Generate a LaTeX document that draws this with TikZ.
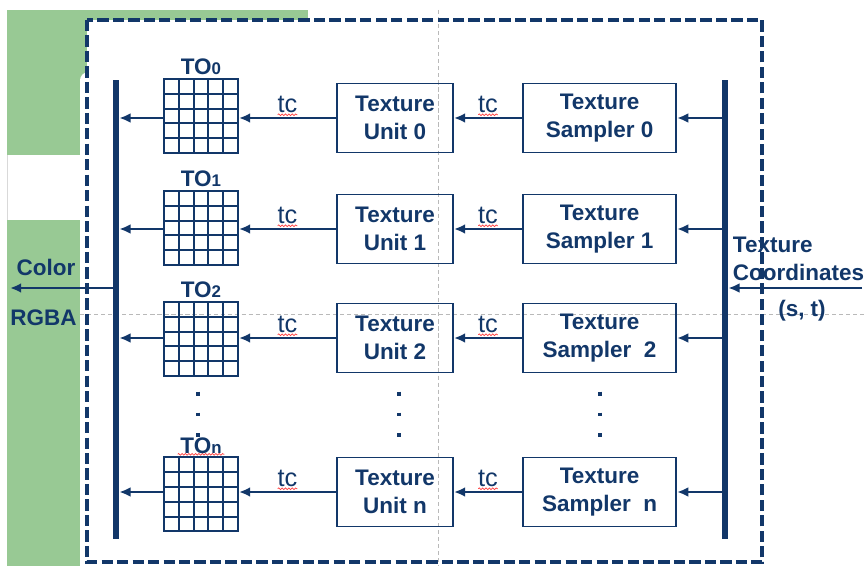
\documentclass[tikz,border=0pt]{standalone}
\usepackage{fontspec}
\setmainfont{Liberation Sans}
\usetikzlibrary{arrows.meta,decorations.pathmorphing}

\definecolor{navy}{RGB}{18,55,105}
\definecolor{slidegreen}{RGB}{152,201,148}
\definecolor{guide}{RGB}{185,185,185}

\newcommand{\tosub}[1]{{\fontsize{12}{12}\selectfont #1}}

\tikzset{
  unitbox/.style={draw=navy, line width=1.4pt, minimum width=2.9cm, minimum height=1.725cm,
    inner sep=0pt, align=center, text=navy, font=\fontsize{16}{20}\selectfont\bfseries},
  samplerbox/.style={unitbox, minimum width=3.825cm},
  tgrid/.style={draw=navy, line width=1.4pt, minimum size=1.85cm, inner sep=0pt,
    path picture={\foreach \k in {1,...,4}{
      \draw[-, navy, line width=1.4pt]
        ([xshift=\k*0.37cm]path picture bounding box.south west) --
        ([xshift=\k*0.37cm]path picture bounding box.north west);
      \draw[-, navy, line width=1.4pt]
        ([yshift=\k*0.37cm]path picture bounding box.south west) --
        ([yshift=\k*0.37cm]path picture bounding box.south east);}}},
  bus/.style={fill=navy, minimum width=4.3pt, minimum height=11.475cm, inner sep=0pt},
  arr/.style={draw=navy, line width=2pt, -{Latex[length=8pt,width=7pt]}},
  lbl/.style={text=navy, font=\fontsize{16}{20}\selectfont\bfseries},
  tolbl/.style={text=navy, font=\fontsize{16}{16}\selectfont\bfseries, inner sep=2pt},
  spell/.style={path picture={\draw[-, red!75, line width=0.5pt, decorate,
      decoration={snake, amplitude=0.6pt, segment length=2.4pt}]
      ([yshift=1.3pt]path picture bounding box.south west) --
      ([yshift=1.3pt]path picture bounding box.south east);}},
  tc/.style={spell, text=navy, font=\fontsize{18}{18}\selectfont, inner xsep=0pt, inner ysep=3pt},
  dotcol/.style={draw=navy, line width=2.8pt, dash pattern=on 2.8pt off 12.1pt}
}

\begin{document}
\begin{tikzpicture}
\useasboundingbox (0,0) rectangle (21.675,-14.15);

% slide background around the frame
\fill[slidegreen] (0.175,-0.25) rectangle (7.7,-3.875);
\fill[slidegreen] (0.175,-5.5) rectangle (2.0,-14.15);
\draw[gray!30, line width=0.5pt] (0.175,-3.875) -- (0.175,-5.5);
\fill[white, rounded corners=6pt] (2.0,-14.4) rectangle (7.8,-1.8);
\fill[white] (2.175,-0.5) rectangle (19.05,-14.05);

% guides
\draw[guide, line width=0.5pt, dash pattern=on 3pt off 2pt] (10.95,-0.25) -- (10.95,-14.15);
\draw[guide, line width=0.5pt, dash pattern=on 3pt off 2pt] (2.0,-7.85) -- (21.675,-7.85);

% frame
\draw[navy, line width=2.2pt, dash pattern=on 8pt off 3pt] (2.175,-0.5) rectangle (19.05,-14.05);

% buses
\node[bus] (lbus) at (2.9,-7.7375) {};
\node[bus] (rbus) at (18.125,-7.7375) {};

% texture objects
\node[tgrid] (g0) at (5.025,-2.9) {};
\node[tgrid] (g1) at (5.025,-5.7) {};
\node[tgrid] (g2) at (5.025,-8.475) {};
\node[tgrid] (gn) at (5.025,-12.36) {};
\node[tolbl, anchor=south] (to0) at (g0.north) {TO\tosub{0}};
\node[tolbl, anchor=south] (to1) at (g1.north) {TO\tosub{1}};
\node[tolbl, anchor=south] (to2) at (g2.north) {TO\tosub{2}};
\node[tolbl, spell, anchor=south] (ton) at (gn.north) {TO\tosub{n}};

% units and samplers
\node[unitbox] (u0) at (9.875,-2.95) {Texture\\Unit 0};
\node[unitbox] (u1) at (9.875,-5.725) {Texture\\Unit 1};
\node[unitbox] (u2) at (9.875,-8.45) {Texture\\Unit 2};
\node[unitbox] (un) at (9.875,-12.3) {Texture\\Unit n};
\node[samplerbox] (s0) at (14.99,-2.95) {Texture\\Sampler 0};
\node[samplerbox] (s1) at (14.99,-5.725) {Texture\\Sampler 1};
\node[samplerbox] (s2) at (14.99,-8.45) {Texture\\Sampler\ \ 2};
\node[samplerbox] (sn) at (14.99,-12.3) {Texture\\Sampler\ \ n};

% more rows follow
\draw[dotcol] (4.95,-9.79) -- (4.95,-10.95);
\draw[dotcol] (9.975,-9.79) -- (9.975,-10.95);
\draw[dotcol] (15.0,-9.79) -- (15.0,-10.95);

% row 0
\draw[arr](s0.east -| rbus.west)--(s0.east);
\draw[arr](s0)--(u0) node[tc,midway,above](tc0b){tc};
\draw[arr](u0)--(u0 -| g0.east) node[tc,midway,above](tc0a){tc};
\draw[arr](u0 -| g0.west)--(u0 -| lbus.east);
% row 1
\draw[arr](s1.east -| rbus.west)--(s1.east);
\draw[arr](s1)--(u1) node[tc,midway,above](tc1b){tc};
\draw[arr](u1)--(u1 -| g1.east) node[tc,midway,above](tc1a){tc};
\draw[arr](u1 -| g1.west)--(u1 -| lbus.east);
% row 2
\draw[arr](s2.east -| rbus.west)--(s2.east);
\draw[arr](s2)--(u2) node[tc,midway,above](tc2b){tc};
\draw[arr](u2)--(u2 -| g2.east) node[tc,midway,above](tc2a){tc};
\draw[arr](u2 -| g2.west)--(u2 -| lbus.east);
% row n
\draw[arr](sn.east -| rbus.west)--(sn.east);
\draw[arr](sn)--(un) node[tc,midway,above](tcnb){tc};
\draw[arr](un)--(un -| gn.east) node[tc,midway,above](tcna){tc};
\draw[arr](un -| gn.west)--(un -| lbus.east);

% output colour
\coordinate (rgba) at (0.25,-7.2);
\draw[arr](lbus.west |- rgba)--(rgba);
\node[lbl] (color) at (1.15,-6.69) {Color};
\node[lbl] (rgbalbl) at (1.09,-7.95) {RGBA};

% input coordinates
\coordinate (st) at (21.55,-7.2);
\draw[arr](st)--(st -| rbus.east);
\node[lbl, align=left, anchor=west] (coords) at (18.2,-6.475) {Texture\\Coordinates};
\node[lbl] (stlbl) at (20.05,-7.775) {(s, t)};
\end{tikzpicture}
\end{document}
